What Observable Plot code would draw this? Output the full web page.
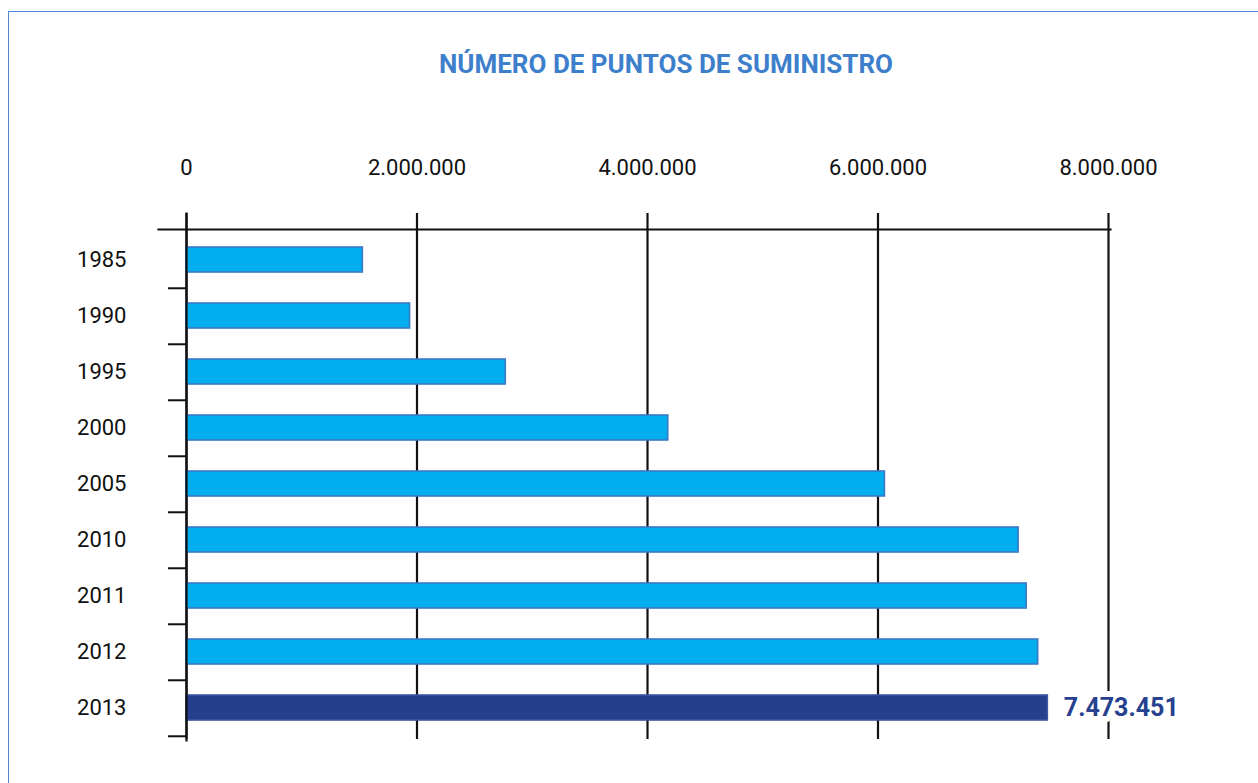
<!DOCTYPE html>
<html>
<head>
<meta charset="utf-8">
<script src="https://cdn.jsdelivr.net/npm/d3@7"></script>
<script src="https://cdn.jsdelivr.net/npm/@observablehq/plot@0.6"></script>
<style>
  html, body { margin: 0; padding: 0; background: #fff; width: 1258px; height: 783px; overflow: hidden; }
  #frame { position: absolute; left: 8px; top: 11px; width: 1400px; height: 900px; border: 1px solid #4f88d4; box-sizing: border-box; }
  #title { position: absolute; left: 666px; top: 49px; transform: translateX(-50%); white-space: nowrap;
           font-family: Roboto, sans-serif; font-weight: 700; font-size: 26px; line-height: 30px; color: #3e7fcc; }
  #chart { position: absolute; left: 0; top: 130px; }
</style>
</head>
<body>
<div id="frame"></div>
<div id="title">NÚMERO DE PUNTOS DE SUMINISTRO</div>
<div id="chart"></div>
<script>
const years = ["1985", "1990", "1995", "2000", "2005", "2010", "2011", "2012", "2013"];
const values = [1530000, 1940000, 2770000, 4180000, 6060000, 7220000, 7290000, 7390000, 7473451];
const xTicks = [0, 2000000, 4000000, 6000000, 8000000];
const highlightYear = "2013";

const data = years.map((year, i) => ({year, value: values[i]}));
const fmt = d => d3.format(",")(d).replace(/,/g, ".");

const W = 1258, H = 653, mt = 99, mb = 45, ml = 186, mr = 150;
const step = (H - mt - mb) / years.length;

const chart = Plot.plot({
  width: W, height: H,
  marginTop: mt, marginBottom: mb, marginLeft: ml, marginRight: mr,
  style: {fontFamily: "Roboto, sans-serif", background: "transparent", color: "#111"},
  x: {domain: [0, 8000000], ticks: xTicks},
  y: {domain: years, paddingInner: 0.56, paddingOuter: 0.28},
  marks: [
    Plot.ruleX(xTicks, {stroke: "#111", strokeWidth: 2.2, insetTop: -16, insetBottom: -1}),
    Plot.barX(data, {
      x: "value", y: "year",
      fill: d => d.year === highlightYear ? "#253f8e" : "#00adee",
      stroke: d => d.year === highlightYear ? "#3a56a0" : "#3d78c6",
      strokeWidth: 1.6
    }),
    Plot.ruleY(years, {y: d => d, dy: step / 2, stroke: "#111", strokeWidth: 2, insetLeft: -18, insetRight: W - ml - mr}),
    Plot.frame({anchor: "top", stroke: "#111", strokeWidth: 2.2, insetLeft: -28, insetRight: -2}),
    Plot.frame({anchor: "left", stroke: "#111", strokeWidth: 2.2, insetTop: -16, insetBottom: -2}),
    Plot.axisX({anchor: "top", ticks: xTicks, tickSize: 0, tickPadding: 55, tickFormat: fmt, fontSize: 22, label: null}),
    Plot.axisY({tickSize: 0, tickPadding: 60, fontSize: 22, label: null}),
    Plot.text(data.filter(d => d.year === highlightYear), {
      x: "value", y: "year", text: d => fmt(d.value), dx: 16, textAnchor: "start",
      fill: "#25418f", fontSize: 25, fontWeight: 700, stroke: "white", strokeWidth: 12
    })
  ]
});
document.getElementById("chart").appendChild(chart);
</script>
</body>
</html>
